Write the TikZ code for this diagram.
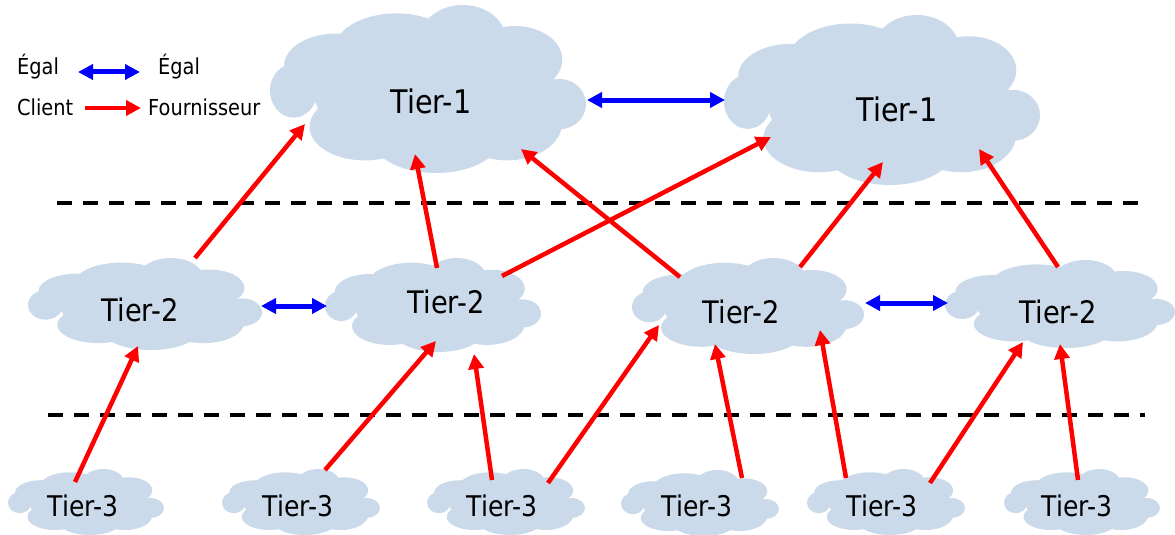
\documentclass[tikz,border=0pt]{standalone}
\usepackage{fontspec}
\setmainfont{DejaVu Sans}[FakeStretch=0.88]
\usetikzlibrary{arrows.meta}
\definecolor{cloudc}{RGB}{203,218,235}
\definecolor{redc}{RGB}{255,0,0}
\definecolor{bluec}{RGB}{0,0,255}
\newcommand\mycloud[4]{%
  \begin{scope}[shift={(#1,#2)},xscale=#3,yscale=#4]
    \fill[cloudc] (0,0.05) ellipse [x radius=0.72,y radius=0.72];
    \fill[cloudc] (-0.85,0.02) ellipse [x radius=0.15,y radius=0.32];
    \fill[cloudc] (-0.58,-0.28) ellipse [x radius=0.33,y radius=0.38];
    \fill[cloudc] (-0.2,-0.45) ellipse [x radius=0.4,y radius=0.45];
    \fill[cloudc] (0.22,-0.6) ellipse [x radius=0.27,y radius=0.4];
    \fill[cloudc] (0.55,-0.35) ellipse [x radius=0.3,y radius=0.4];
    \fill[cloudc] (0.83,0.18) ellipse [x radius=0.17,y radius=0.3];
    \fill[cloudc] (0.5,0.4) ellipse [x radius=0.35,y radius=0.45];
    \fill[cloudc] (0.05,0.6) ellipse [x radius=0.4,y radius=0.4];
    \fill[cloudc] (-0.4,0.45) ellipse [x radius=0.35,y radius=0.4];
  \end{scope}}
\tikzset{
  red arrow/.style={draw=redc,line width=4.5pt,-{Triangle[length=15pt,width=15pt]}},
  blue arrow/.style={draw=bluec,line width=5pt,{Triangle[length=15pt,width=15pt]}-{Triangle[length=15pt,width=15pt]}},
  sep/.style={draw=black,line width=3.5pt,dash pattern=on 15pt off 11pt},
  t1/.style={font=\fontsize{32.5}{36}\selectfont,inner sep=0pt},
  t2/.style={font=\fontsize{31}{35}\selectfont,inner sep=0pt},
  t3/.style={font=\fontsize{28.5}{32}\selectfont,inner sep=0pt},
  lg/.style={font=\fontsize{22}{25}\selectfont,inner sep=0pt,anchor=west}
}
\begin{document}
\begin{tikzpicture}[x=1pt,y=-1pt]
\useasboundingbox (0,0) rectangle (1175,535);
% clouds
\mycloud{428}{89}{158}{84}
\mycloud{882}{100}{158}{85}
\mycloud{145}{304}{117}{46}
\mycloud{433}{305}{108}{47}
\mycloud{748}{306}{116}{48}
\mycloud{1060}{304}{115}{44}
\mycloud{86}{502}{78}{33}
\mycloud{301}{502}{79}{33}
\mycloud{506}{502}{79}{33}
\mycloud{700}{503}{79}{33}
\mycloud{886}{502}{79}{33}
\mycloud{1082}{502}{78}{33}
% labels
\node[t1] (n1a) at (431,101) {Tier-1};
\node[t1] (n1b) at (897,109) {Tier-1};
\node[t2] (n2a) at (140,310) {Tier-2};
\node[t2] (n2b) at (446,302) {Tier-2};
\node[t2] (n2c) at (741,312) {Tier-2};
\node[t2] (n2d) at (1058,312) {Tier-2};
\node[t3] (n3a) at (83,506) {Tier-3};
\node[t3] (n3b) at (298,506) {Tier-3};
\node[t3] (n3c) at (502,506) {Tier-3};
\node[t3] (n3d) at (697,506) {Tier-3};
\node[t3] (n3e) at (882,506) {Tier-3};
\node[t3] (n3f) at (1077,506) {Tier-3};
% legend
\node[lg] (le1) at (17,67) {Égal};
\node[lg] (le2) at (158,67) {Égal};
\node[lg] (lc) at (17,107) {Client};
\node[lg] (lf) at (148,107) {Fournisseur};
\coordinate (lb1) at (78,72); \coordinate (lb2) at (140,72);
\coordinate (lr1) at (85,108); \coordinate (lr2) at (141,108);
\draw[blue arrow] (lb1) -- (lb2);
\draw[red arrow] (lr1) -- (lr2);
% separators
\coordinate (s1a) at (57,203); \coordinate (s1b) at (1145,203);
\coordinate (s2a) at (48,415); \coordinate (s2b) at (1145,415);
\draw[sep] (s1a) -- (s1b);
\draw[sep] (s2a) -- (s2b);
% peer links
\coordinate (p1a) at (587,100); \coordinate (p1b) at (725,100);
\coordinate (p2a) at (261,306); \coordinate (p2b) at (327,306);
\coordinate (p3a) at (865,303); \coordinate (p3b) at (948,303);
\draw[blue arrow] (p1a) -- (p1b);
\draw[blue arrow] (p2a) -- (p2b);
\draw[blue arrow] (p3a) -- (p3b);
% customer-provider links
\coordinate (a1s) at (195,258);  \coordinate (a1e) at (305,124);
\coordinate (a2s) at (437,268);  \coordinate (a2e) at (415,154);
\coordinate (a3s) at (502,276);  \coordinate (a3e) at (771,137);
\coordinate (a4s) at (680,277);  \coordinate (a4e) at (521,149);
\coordinate (a5s) at (800,267);  \coordinate (a5e) at (883,162);
\coordinate (a6s) at (1058,267); \coordinate (a6e) at (979,149);
\coordinate (b1s) at (75,482);   \coordinate (b1e) at (138,346);
\coordinate (b2s) at (325,470);  \coordinate (b2e) at (436,341);
\coordinate (b3s) at (492,480);  \coordinate (b3e) at (474,354);
\coordinate (b4s) at (548,483);  \coordinate (b4e) at (659,325);
\coordinate (b5s) at (742,478);  \coordinate (b5e) at (715,344);
\coordinate (b6s) at (846,478);  \coordinate (b6e) at (820,330);
\coordinate (b7s) at (930,483);  \coordinate (b7e) at (1023,342);
\coordinate (b8s) at (1078,480); \coordinate (b8e) at (1060,344);
\foreach \p in {a1,a2,a3,a4,a5,a6,b1,b2,b3,b4,b5,b6,b7,b8}
  \draw[red arrow] (\p s) -- (\p e);
\end{tikzpicture}
\end{document}
